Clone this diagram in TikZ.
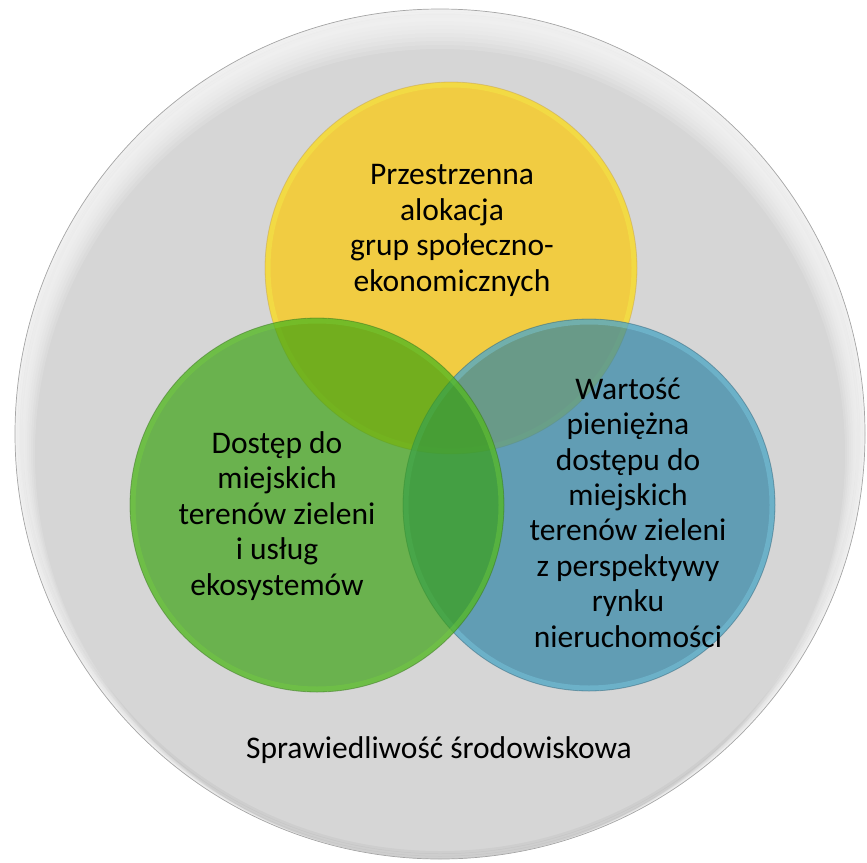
\documentclass[tikz,border=0pt]{standalone}
\usepackage{fontspec}
\setmainfont{Carlito}
\begin{document}
\begin{tikzpicture}[x=1pt,y=-1pt,
  txt/.style={align=center, inner sep=0pt, text=black, font=\fontsize{31.5}{35.4}\selectfont},
  rimline/.style={line width=0.8pt, opacity=0.55}]
\definecolor{bgc}{RGB}{214,214,214}
\definecolor{ycol}{RGB}{241,204,66}
\definecolor{yrim}{RGB}{244,232,70}
\definecolor{yline}{RGB}{200,176,96}
\definecolor{gcol}{RGB}{55,161,14}
\definecolor{grim}{RGB}{120,214,60}
\definecolor{gline}{RGB}{70,130,40}
\definecolor{bcol}{RGB}{48,134,166}
\definecolor{brim}{RGB}{130,215,240}
\definecolor{bline}{RGB}{70,120,140}
\useasboundingbox (0,0) rectangle (867,862);
% outer disc
\coordinate (O) at (440,434);
\fill[bgc] (O) circle[radius=425pt];
\begin{scope}
  \clip (O) circle[radius=425pt];
  \foreach \k in {1,...,3} {
    \draw[black, opacity=0.035, line width=3pt] (O) circle[radius=426pt-\k*2.5pt];
  }
  \foreach \k in {1,...,10} {
    \fill[white, opacity=0.13, even odd rule] (O) circle[radius=427pt]
      ([yshift=-\k*2pt]O) circle[radius=425pt-\k*2pt];
  }
\end{scope}
\draw[gray!70, line width=0.7pt] (O) circle[radius=425pt];
% colored circles
\coordinate (CY) at (451,268);
\coordinate (CB) at (589,505);
\coordinate (CG) at (317,505);
\fill[ycol] (CY) circle[radius=186pt];
\draw[yrim, line width=5pt, opacity=0.5] (CY) circle[radius=183pt];
\draw[yline, rimline] (CY) circle[radius=186pt];
\fill[bcol, opacity=0.7] (CB) circle[radius=186pt];
\draw[brim, line width=5pt, opacity=0.35] (CB) circle[radius=183pt];
\draw[bline, rimline] (CB) circle[radius=186pt];
\fill[gcol, opacity=0.68] (CG) circle[radius=187pt];
\draw[grim, line width=5pt, opacity=0.35] (CG) circle[radius=184pt];
\draw[gline, rimline] (CG) circle[radius=187pt];
% texts (base anchor = baseline of last line)
\node[txt, anchor=base] (ty) at (452,291) {Przestrzenna\\alokacja\\grup społeczno-\\ekonomicznych};
\node[txt, anchor=base] (tg) at (277,595) {Dostęp do\\miejskich\\terenów zieleni\\i usług\\ekosystemów};
\node[txt, anchor=base] (tb) at (628,647) {Wartość\\pieniężna\\dostępu do\\miejskich\\terenów zieleni\\z perspektywy\\rynku\\nieruchomości};
\node[txt, anchor=base] (tbot) at (439,758) {Sprawiedliwość środowiskowa};
\end{tikzpicture}
\end{document}
